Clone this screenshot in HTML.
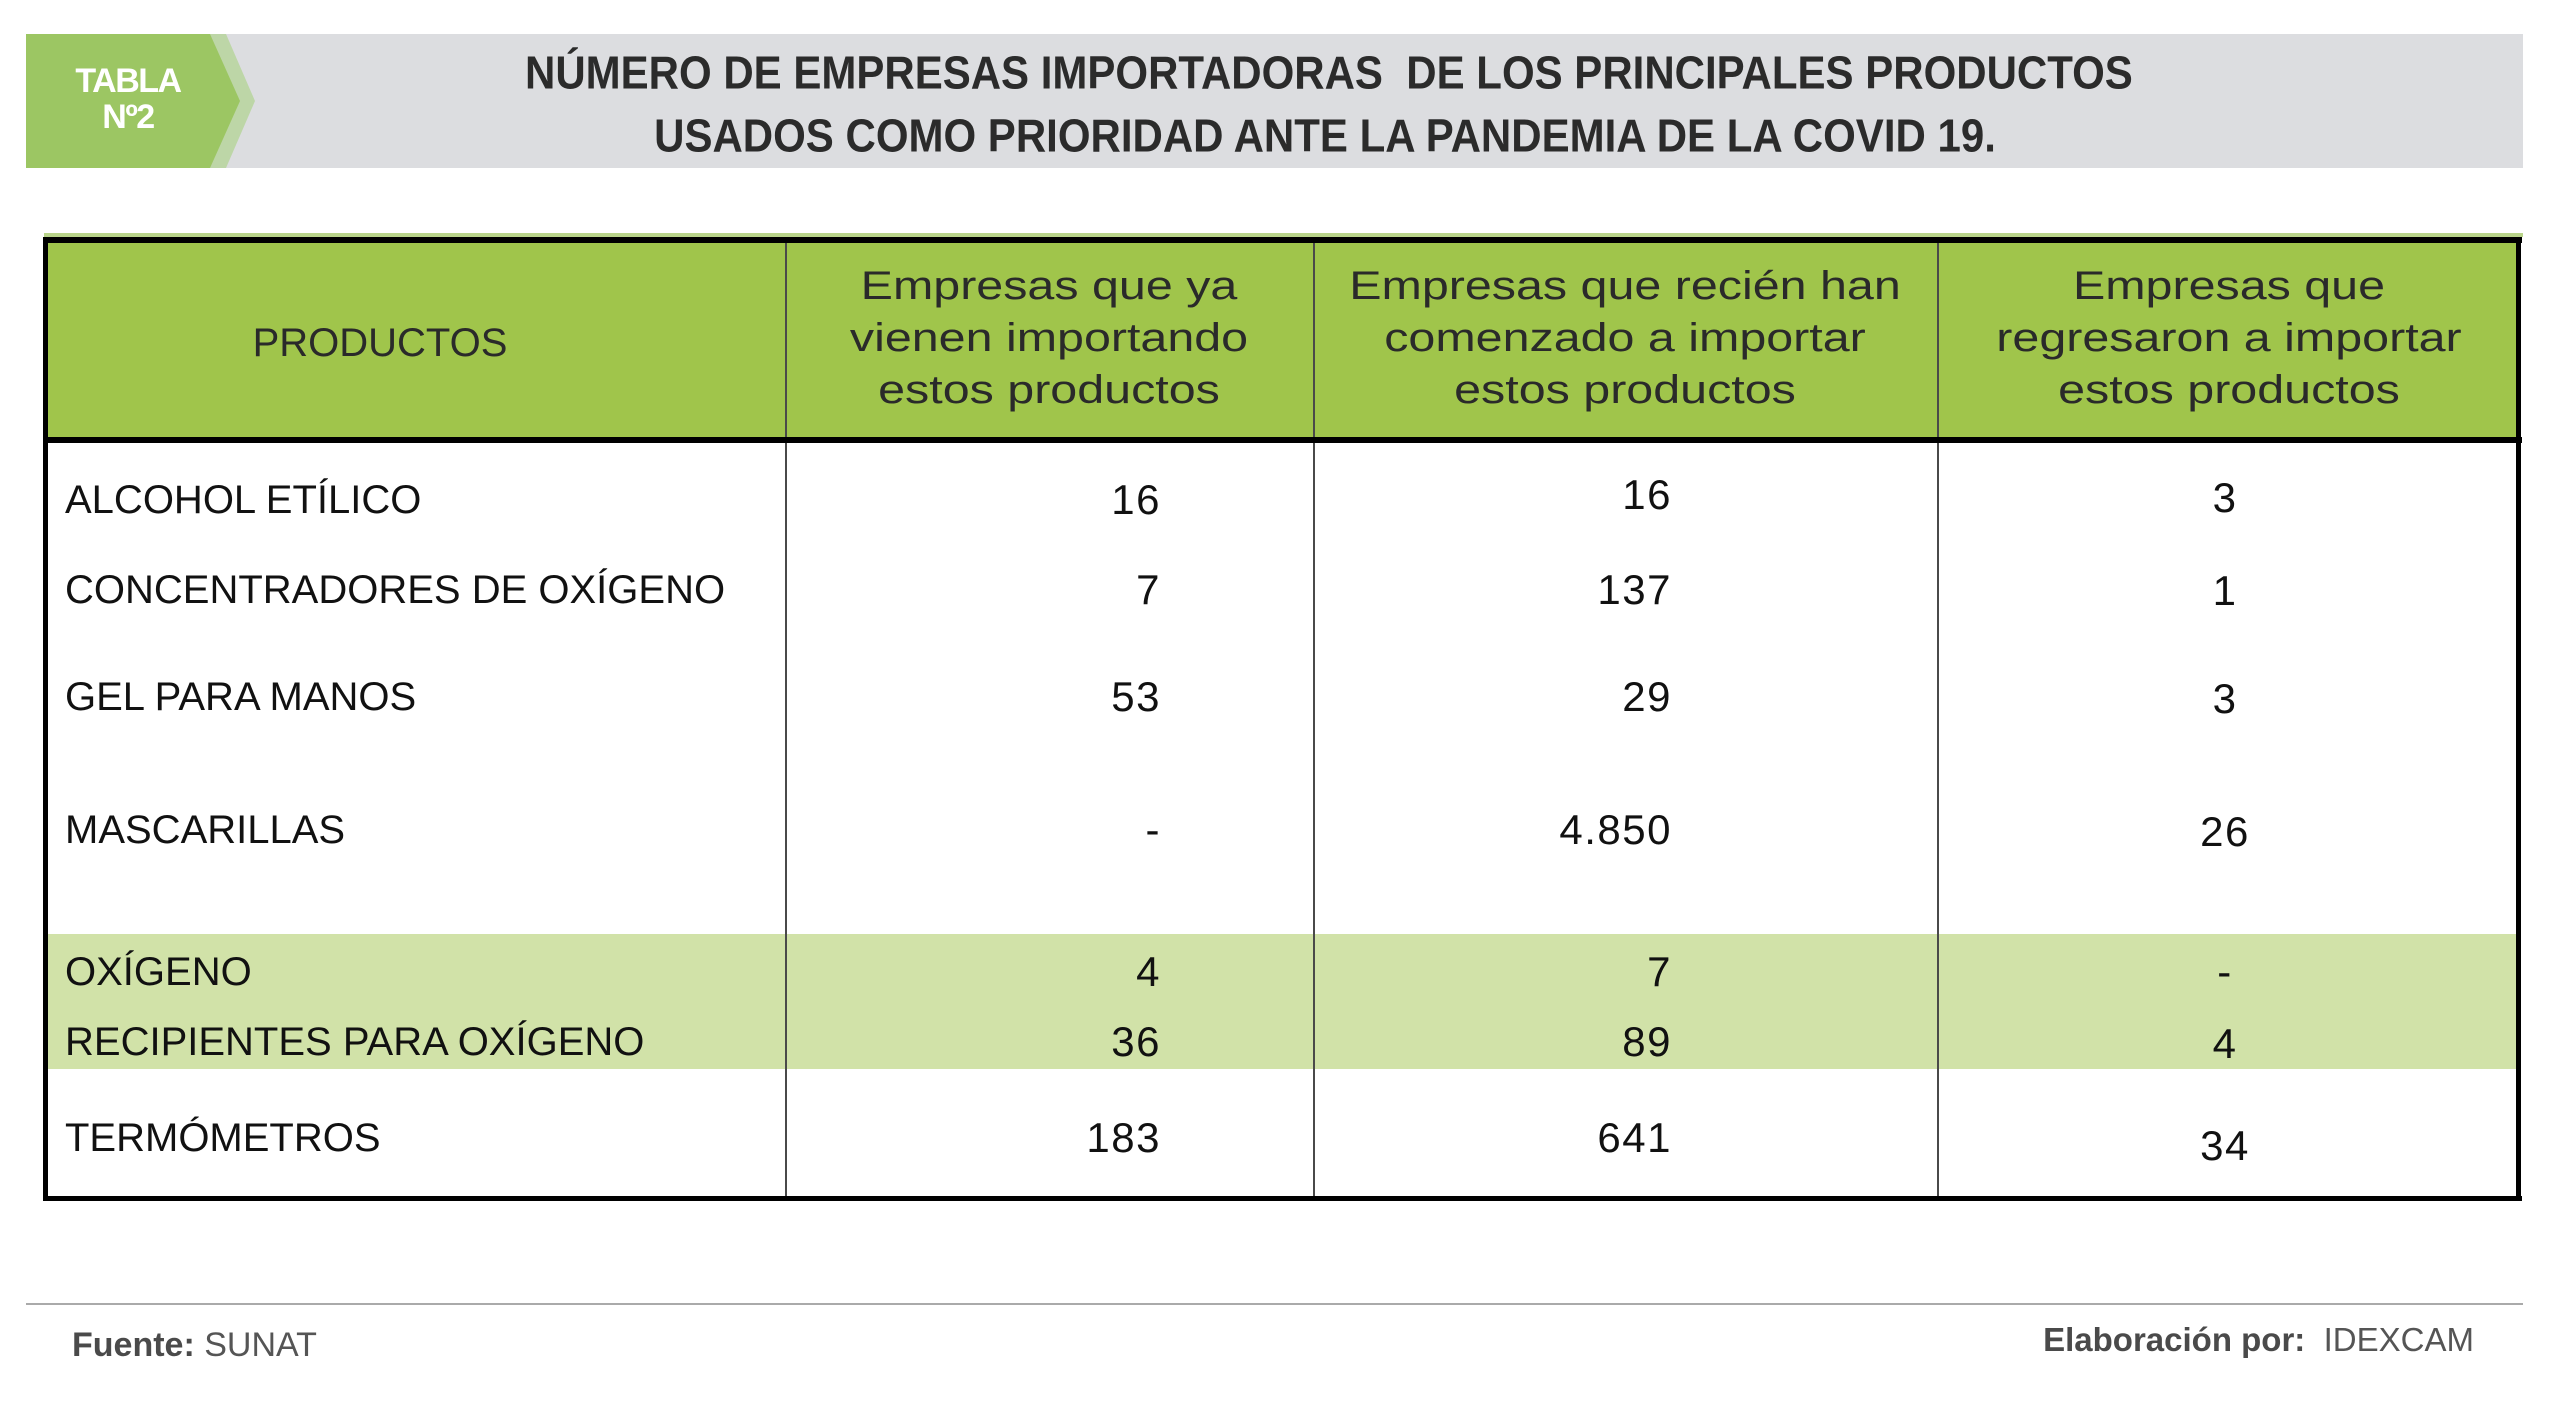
<!DOCTYPE html>
<html>
<head>
<meta charset="utf-8">
<style>
  html,body{margin:0;padding:0;}
  body{width:2560px;height:1426px;position:relative;overflow:hidden;background:#ffffff;font-family:"Liberation Sans",Arial,sans-serif;}
  .a{position:absolute;white-space:nowrap;}
  .prod{left:65px;font-size:40px;line-height:40px;color:#111;}
  .v{font-size:42px;line-height:42px;color:#111;letter-spacing:1.5px;}
  .c2{right:1399px;text-align:right;}
  .c3{right:888px;text-align:right;}
  .c4{left:2125px;width:200px;text-align:center;}
  .hd{font-size:40px;line-height:52px;color:#2a2a2a;text-align:center;transform:scaleX(1.21);transform-origin:center center;}
</style>
</head>
<body>

<!-- Banner -->
<svg class="a" style="left:0;top:0" width="2560" height="200" viewBox="0 0 2560 200">
  <rect x="26" y="34" width="2497" height="134" fill="#dcdde0"/>
  <polygon points="26,34 226,34 255,101 226,168 26,168" fill="#bdd6a7"/>
  <polygon points="26,34 210,34 240,101 210,168 26,168" fill="#9cc663"/>
</svg>

<div class="a" style="left:46px;width:164px;top:63px;text-align:center;font-weight:bold;font-size:34px;line-height:36px;color:#fff;letter-spacing:-1.5px;">TABLA<br>Nº2</div>

<div class="a" style="left:525px;width:1600px;top:47px;text-align:center;font-weight:bold;font-size:42px;line-height:57px;color:#2b2b2b;transform:scaleY(1.1);">NÚMERO DE EMPRESAS IMPORTADORAS&nbsp; DE LOS PRINCIPALES PRODUCTOS<br>USADOS COMO PRIORIDAD ANTE LA PANDEMIA DE LA COVID 19.</div>

<!-- Table graphics + footer line -->
<svg class="a" style="left:0;top:0" width="2560" height="1426" viewBox="0 0 2560 1426">
  <rect x="44" y="233" width="2479" height="4" fill="#b9d48a"/>
  <rect x="44" y="237" width="2476" height="206" fill="#a0c54b"/>
  <rect x="48" y="934" width="2469" height="135" fill="#d1e2a8"/>
  <rect x="785" y="243" width="2" height="953" fill="#4a4a4a"/>
  <rect x="1313" y="243" width="2" height="953" fill="#4a4a4a"/>
  <rect x="1937" y="243" width="2" height="953" fill="#4a4a4a"/>
  <rect x="43" y="237" width="2479" height="6" fill="#000"/>
  <rect x="43" y="437" width="2479" height="6" fill="#000"/>
  <rect x="43" y="1196" width="2479" height="5" fill="#000"/>
  <rect x="43" y="237" width="5" height="964" fill="#000"/>
  <rect x="2516" y="237" width="5" height="964" fill="#000"/>
  <rect x="26" y="1303" width="2497" height="2" fill="#aaaaaa"/>
</svg>

<!-- Header texts -->
<div class="a" style="left:200px;width:360px;top:323px;text-align:center;font-size:40px;line-height:40px;color:#2a2a2a;">PRODUCTOS</div>
<div class="a hd" style="left:799px;width:500px;top:260px;">Empresas que ya<br>vienen importando<br>estos productos</div>
<div class="a hd" style="left:1375px;width:500px;top:260px;">Empresas que recién han<br>comenzado a importar<br>estos productos</div>
<div class="a hd" style="left:1979px;width:500px;top:260px;">Empresas que<br>regresaron a importar<br>estos productos</div>

<!-- Product names -->
<div class="a prod" style="top:480px;">ALCOHOL ETÍLICO</div>
<div class="a prod" style="top:570px;">CONCENTRADORES DE OXÍGENO</div>
<div class="a prod" style="top:677px;">GEL PARA MANOS</div>
<div class="a prod" style="top:810px;">MASCARILLAS</div>
<div class="a prod" style="top:952px;">OXÍGENO</div>
<div class="a prod" style="top:1022px;">RECIPIENTES PARA OXÍGENO</div>
<div class="a prod" style="top:1118px;">TERMÓMETROS</div>

<!-- Column 2 values -->
<div class="a v c2" style="top:479px;">16</div>
<div class="a v c2" style="top:569px;">7</div>
<div class="a v c2" style="top:676px;">53</div>
<div class="a v c2" style="top:809px;">-</div>
<div class="a v c2" style="top:951px;">4</div>
<div class="a v c2" style="top:1021px;">36</div>
<div class="a v c2" style="top:1117px;">183</div>

<!-- Column 3 values -->
<div class="a v c3" style="top:474px;">16</div>
<div class="a v c3" style="top:569px;">137</div>
<div class="a v c3" style="top:676px;">29</div>
<div class="a v c3" style="top:809px;">4.850</div>
<div class="a v c3" style="top:951px;">7</div>
<div class="a v c3" style="top:1021px;">89</div>
<div class="a v c3" style="top:1117px;">641</div>

<!-- Column 4 values -->
<div class="a v c4" style="top:477px;">3</div>
<div class="a v c4" style="top:570px;">1</div>
<div class="a v c4" style="top:678px;">3</div>
<div class="a v c4" style="top:811px;">26</div>
<div class="a v c4" style="top:951px;">-</div>
<div class="a v c4" style="top:1023px;">4</div>
<div class="a v c4" style="top:1125px;">34</div>

<!-- Footer -->
<div class="a" style="left:72px;top:1328px;font-size:34px;line-height:34px;color:#555;"><b style="color:#4a4a4a;">Fuente:</b> SUNAT</div>
<div class="a" style="right:86px;top:1323px;font-size:33px;line-height:33px;color:#555;text-align:right;"><b style="color:#4a4a4a;">Elaboración por:</b>&nbsp; IDEXCAM</div>

</body>
</html>
